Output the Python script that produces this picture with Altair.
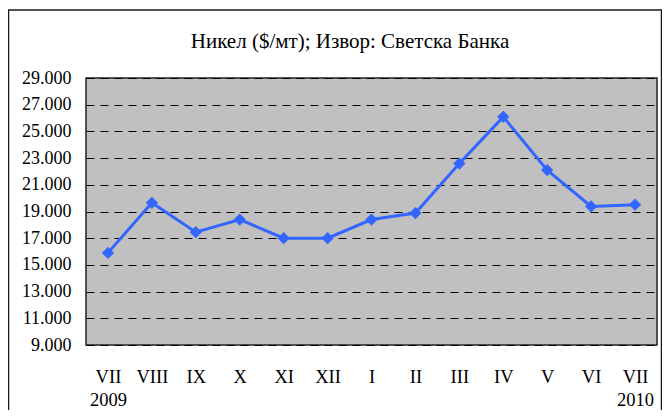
import altair as alt
import pandas as pd

months = ["VII", "VIII", "IX", "X", "XI", "XII", "I", "II", "III", "IV", "V", "VI", "VII"]
years = ["2009", "", "", "", "", "", "", "", "", "", "", "", "2010"]
nickel = [15900, 19650, 17450, 18400, 17000, 17000, 18400, 18880, 22590, 26090, 22100, 19380, 19510]
y_ticks = list(range(9000, 29001, 2000))
title_text = "Никел ($/мт); Извор: Светска Банка"

FONT = "Liberation Serif"

df = pd.DataFrame({"idx": list(range(len(months))), "month": months, "year": years, "price": nickel})

label_arr = "[" + ",".join("['%s','%s']" % (m, y) for m, y in zip(months, years)) + "]"
label_expr = label_arr + "[datum.value]"

x_enc = alt.X(
    "idx:O",
    scale=alt.Scale(type="point", padding=0.5),
    axis=alt.Axis(
        title=None, labelExpr=label_expr, labelAngle=0, ticks=False, domain=False,
        labelPadding=22, labelLineHeight=23, labelFont=FONT, labelFontSize=18.5,
        labelColor="black", grid=False,
    ),
)
y_enc = alt.Y(
    "price:Q",
    scale=alt.Scale(domain=[9000, 29000], nice=False, zero=False),
    axis=alt.Axis(
        values=y_ticks, title=None,
        labelExpr="replace(format(datum.value, ','), ',', '.')",
        ticks=False, domain=False, grid=True, gridDash=[8, 6], gridColor="black",
        gridWidth=1, labelPadding=15, labelFont=FONT, labelFontSize=18, labelColor="black",
    ),
)

base = alt.Chart(df).encode(x=x_enc, y=y_enc)
line = base.mark_line(color="#3366FF", strokeWidth=3)
points = base.mark_point(shape="diamond", filled=True, size=150, color="#3366FF", opacity=1)

single = pd.DataFrame({"f": [0]})
frame = alt.Chart(single).mark_rect(
    fill="transparent", stroke="#1a1a1a", strokeWidth=1.5, clip=False
).encode(x=alt.value(-77.5), x2=alt.value(575.5), y=alt.value(-68), y2=alt.value(340))

title = alt.Chart(single).mark_text(
    text=title_text, font=FONT, fontSize=21, color="black", align="center",
    baseline="alphabetic", clip=False,
).encode(x=alt.value(264), y=alt.value(-30))

chart = alt.layer(frame, title, line, points).properties(
    width=571,
    height=267,
    autosize=alt.AutoSizeParams(type="none"),
    padding={"left": 78, "top": 70, "right": 5, "bottom": 65},
).configure(background="white").configure_view(fill="#C0C0C0", stroke="#222", strokeWidth=1.5)

chart.save("out.html", embed_options={"renderer": "svg", "actions": False})
